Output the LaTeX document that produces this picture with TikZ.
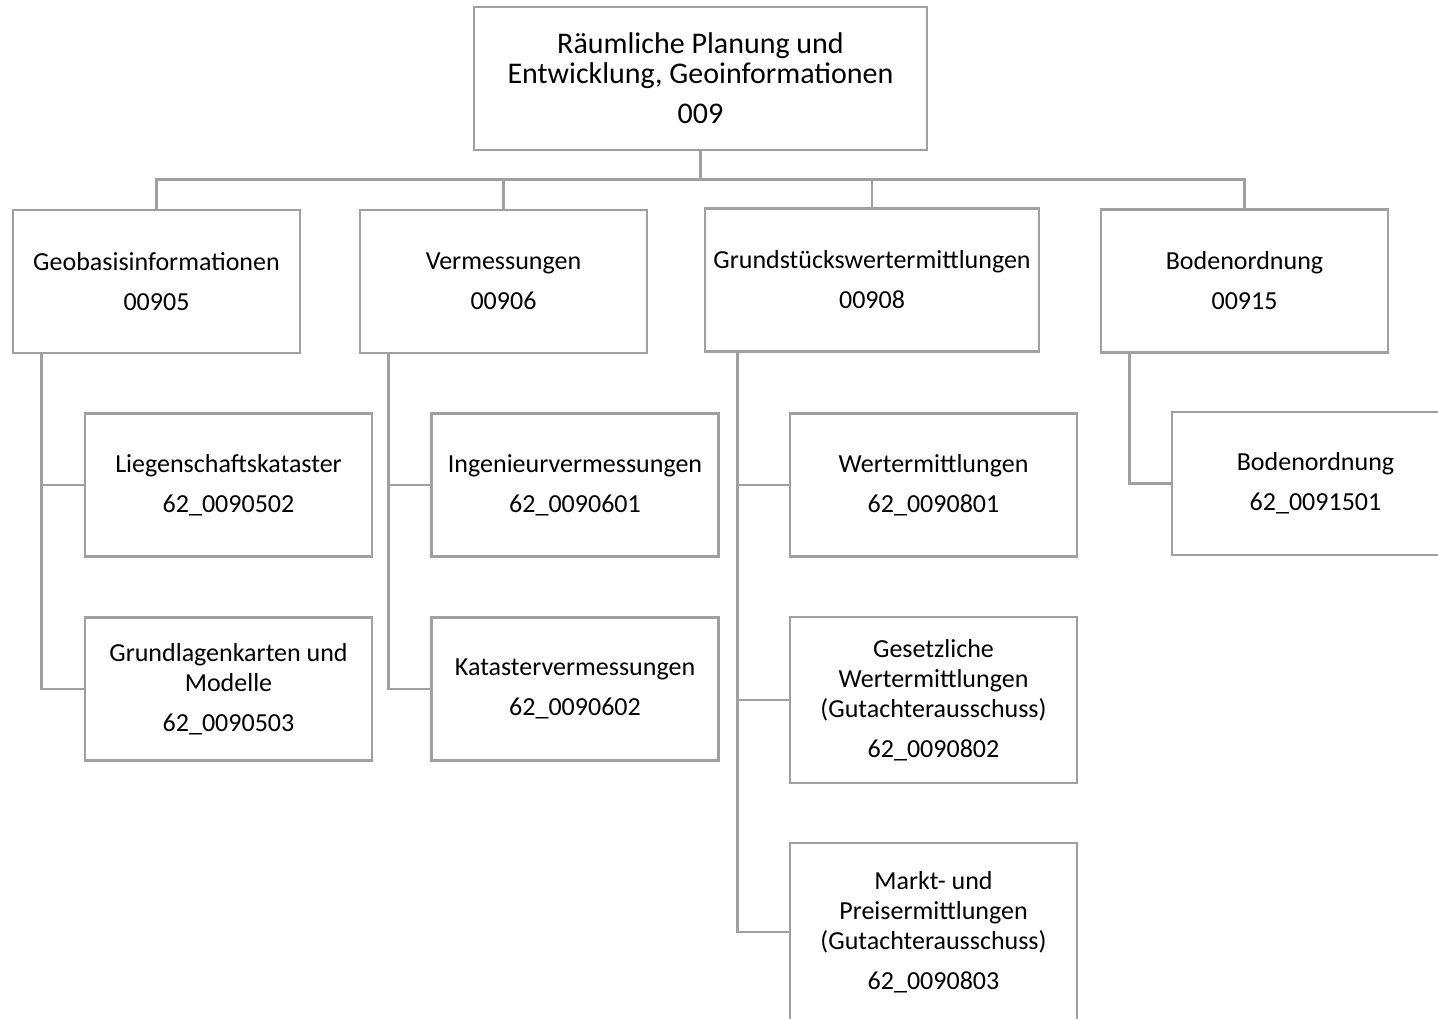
\documentclass[tikz,border=0pt]{standalone}
\usepackage{fontspec}
\setmainfont{Carlito}
\usetikzlibrary{positioning,calc}
\definecolor{lgrey}{HTML}{A0A0A0}
\tikzset{
  box/.style={draw=lgrey,line width=1.3pt,align=center,inner sep=2pt,
              font=\fontsize{13}{15}\selectfont,minimum width=143.5pt,minimum height=71.5pt},
  conn/.style={draw=lgrey,line width=1.3pt},
}
\begin{document}
\begin{tikzpicture}[x=0.5pt,y=-0.5pt]
\useasboundingbox (0,0) rectangle (1438,1018);
% department
\node[box,minimum width=226.5pt,font=\fontsize{15}{15}\selectfont] (top) at (700.5,78.5)
  {Räumliche Planung und\\Entwicklung, Geoinformationen\\[5pt]009};
% divisions
\node[box] (geo) at (156.5,281.5) {Geobasisinformationen\\[5pt]00905};
\node[box] (verm) at (503.5,281.5) {Vermessungen\\[5pt]00906};
\node[box,minimum width=167pt] (grund) at (872,280) {Grundstückswertermittlungen\\[5pt]00908};
\node[box] (boden) at (1244.5,281) {Bodenordnung\\[5pt]00915};
% units
\node[box] (lieg) at (228.5,485) {Liegenschaftskataster\\[5pt]62\_0090502};
\node[box] (karten) at (228.5,689) {Grundlagenkarten und\\Modelle\\[5pt]62\_0090503};
\node[box] (ing) at (575,485) {Ingenieurvermessungen\\[5pt]62\_0090601};
\node[box] (kat) at (575,689) {Katastervermessungen\\[5pt]62\_0090602};
\node[box] (wert) at (933.5,485) {Wertermittlungen\\[5pt]62\_0090801};
\node[box,minimum height=83pt] (gesetz) at (933.5,700)
  {Gesetzliche\\Wertermittlungen\\(Gutachterausschuss)\\[5pt]62\_0090802};
\node[box,minimum height=89pt] (markt) at (933.5,932)
  {Markt- und\\Preisermittlungen\\(Gutachterausschuss)\\[5pt]62\_0090803};
\node[box] (bodsub) at (1315.5,483.5) {Bodenordnung\\[5pt]62\_0091501};
% tree lines
\foreach \c in {geo,verm,grund,boden} \draw[conn] (top.south) -- ++(0,28) -| (\c.north);
\foreach \p/\c in {geo/lieg,geo/karten,verm/ing,verm/kat,boden/bodsub}
  \draw[conn] ($(\p.south west)+(30,0)$) |- (\c.west);
\foreach \c in {wert,gesetz,markt} \draw[conn] ($(grund.south west)+(34,0)$) |- (\c.west);
\end{tikzpicture}
\end{document}
